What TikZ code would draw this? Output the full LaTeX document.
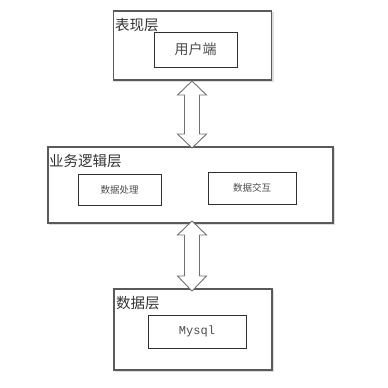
\documentclass[tikz,border=0pt]{standalone}
\usepackage{fontspec}
\newfontfamily\cjk{Noto Sans CJK SC}
\setmonofont{Liberation Mono}
\usetikzlibrary{calc}
\definecolor{outerc}{HTML}{5A5A5A}
\definecolor{innerc}{HTML}{303030}
\definecolor{shadowc}{HTML}{DDDDDD}
\definecolor{arrowc}{HTML}{707070}
\tikzset{
  layer/.style={draw=outerc, line width=1.1pt, fill=white, inner sep=0pt,
    preaction={draw=shadowc, line width=1.1pt, transform canvas={xshift=1.5pt,yshift=-1.5pt}}},
  inbox/.style={draw=innerc, line width=1pt, fill=white, inner sep=0pt, text=black!70},
  title/.style={anchor=west, inner sep=0pt, font=\cjk\fontsize{14.5}{14.5}\selectfont, text=black!80},
  dblarrow/.style={draw=arrowc, line width=0.9pt, fill=white, line join=miter}
}
\begin{document}
\begin{tikzpicture}[x=1pt,y=-1pt]
\useasboundingbox (0,0) rectangle (388,388);
% layers
\node[layer, minimum width=158pt, minimum height=69pt] (top) at (192.5,45.5) {};
\node[layer, minimum width=285pt, minimum height=76pt] (mid) at (190.5,185) {};
\node[layer, minimum width=158pt, minimum height=81pt] (bot) at (193,329.5) {};
% titles
\node[title] (ttop) at (115,25) {表现层};
\node[title] (tmid) at (49,161) {业务逻辑层};
\node[title] (tbot) at (116,303) {数据层};
% inner boxes
\node[inbox, minimum width=83pt, minimum height=35pt, font=\cjk\fontsize{14}{14}\selectfont] (user) at (195.5,49.5) {用户端};
\node[inbox, minimum width=83pt, minimum height=31pt, font=\cjk\fontsize{9.5}{9.5}\selectfont] (proc) at (119.5,189.5) {数据处理};
\node[inbox, minimum width=88pt, minimum height=32pt, font=\cjk\fontsize{9.5}{9.5}\selectfont] (inter) at (252,188) {数据交互};
\node[inbox, minimum width=98pt, minimum height=33pt, font=\ttfamily\fontsize{12}{12}\selectfont] (mysql) at (197,331.5) {Mysql};
% double arrows
\draw[dblarrow] (192,81) -- (206.5,95) -- (199.5,95) -- (199.5,134) -- (206.5,134) -- (192,148)
  -- (177.5,134) -- (184.5,134) -- (184.5,95) -- (177.5,95) -- cycle;
\draw[dblarrow] (192,221) -- (206.5,235) -- (199.5,235) -- (199.5,276) -- (206.5,276) -- (192,291)
  -- (177.5,276) -- (184.5,276) -- (184.5,235) -- (177.5,235) -- cycle;
\end{tikzpicture}
\end{document}
